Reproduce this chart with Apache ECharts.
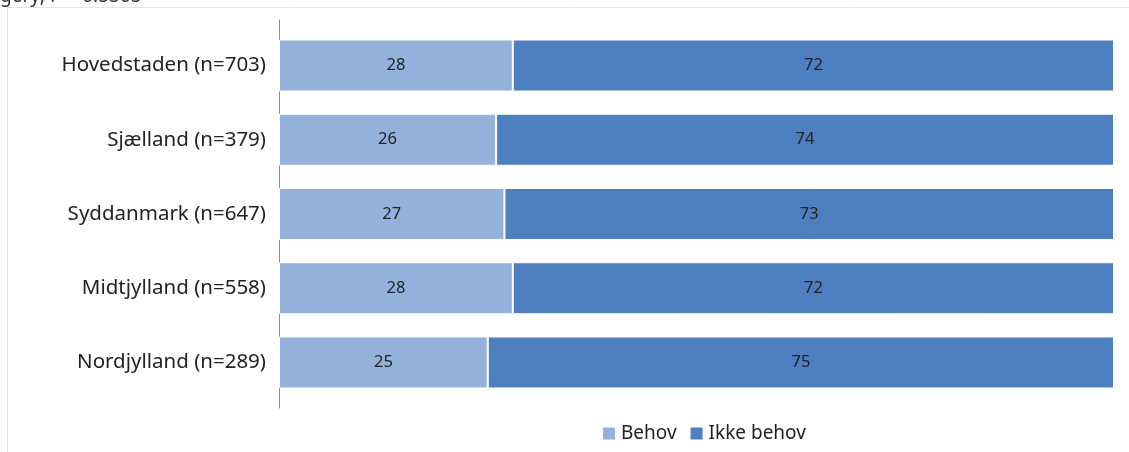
<!DOCTYPE html>
<html><head><meta charset="utf-8">
<script src="https://cdn.jsdelivr.net/npm/echarts@6/dist/echarts.min.js"></script>
<style>html,body{margin:0;padding:0;background:#fff}#c{width:1129px;height:452px}</style>
</head><body><div id="c"></div>
<script>
const categories = ['Hovedstaden (n=703)','Sjælland (n=379)','Syddanmark (n=647)','Midtjylland (n=558)','Nordjylland (n=289)'];
const behov = [28,26,27,28,25];
const ikkeBehov = [72,74,73,72,75];
const seriesNames = ['Behov','Ikke behov'];
const topText = 'gery; P = 0.5505';

const chart = echarts.init(document.getElementById('c'));
const font = '"Noto Sans", "Open Sans", sans-serif';
chart.setOption({
  animation:false,
  graphic:[
    {type:'rect', shape:{x:7.5,y:7.5,width:1200,height:500}, style:{fill:'none', stroke:'#e4e4e4', lineWidth:1}, silent:true},
    {type:'text', x:0, y:6, style:{text:topText, font:'19px '+font, fill:'#333', textVerticalAlign:'bottom'}}
  ],
  legend:{
    data:seriesNames, left:596, top:419, itemWidth:14, itemHeight:14, itemGap:12,
    icon:'rect', textStyle:{fontFamily:font, fontSize:19, color:'#222', padding:[0,0,0,0]}
  },
  grid:[
    {left:279, right:15, top:28.4, height:371.2},
    {left:279, right:15, top:20, height:388}
  ],
  xAxis:[
    {type:'value', min:0, max:100, show:false, gridIndex:0},
    {type:'value', min:0, max:100, show:false, gridIndex:1}
  ],
  yAxis:[
    {type:'category', data:categories, inverse:true, gridIndex:0,
     axisLine:{show:false}, axisTick:{show:false},
     axisLabel:{margin:13, fontFamily:font, fontSize:20.5, color:'#222'}},
    {type:'category', data:[''], gridIndex:1,
     axisLine:{show:true, lineStyle:{color:'#8c8c8c', width:1}}, axisTick:{show:false}, axisLabel:{show:false}}
  ],
  series:[
    {name:seriesNames[0], type:'bar', stack:'a', data:behov, barWidth:52,
     itemStyle:{color:'#93B1DA', borderColor:'#fff', borderWidth:1},
     label:{show:true, position:'inside', fontFamily:font, fontSize:16.5, color:'#222'}},
    {name:seriesNames[1], type:'bar', stack:'a', data:ikkeBehov, barWidth:52,
     itemStyle:{color:'#4E7FC0', borderColor:'#fff', borderWidth:1},
     label:{show:true, position:'inside', fontFamily:font, fontSize:16.5, color:'#222'}}
  ]
});
</script></body></html>
